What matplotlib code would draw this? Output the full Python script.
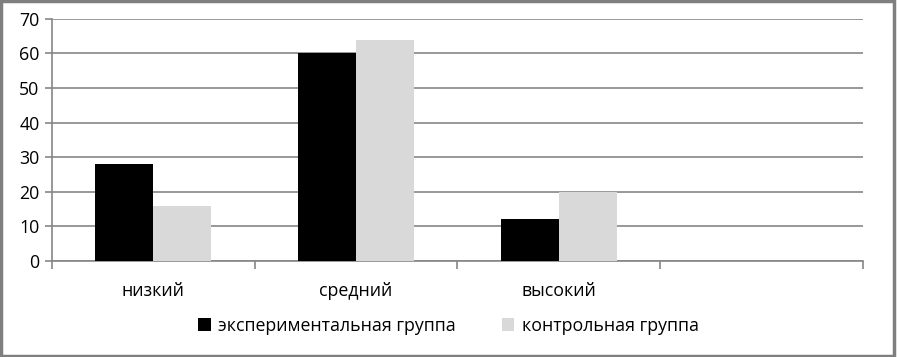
import matplotlib.pyplot as plt
from matplotlib.patches import Rectangle
import numpy as np

plt.rcParams['font.family'] = ['Open Sans', 'DejaVu Sans']

categories = ["низкий", "средний", "высокий", ""]
experimental = [28, 60, 12, 0]
control = [16, 64, 20, 0]
series_names = ["экспериментальная группа", "контрольная группа"]
yticks = [0, 10, 20, 30, 40, 50, 60, 70]

GRID = "#868686"

fig = plt.figure(figsize=(8.97, 3.57), dpi=100)
ax = fig.add_axes([0.058, 0.269, 0.904, 0.678])

x = np.arange(len(categories))
w = 0.286
b1 = ax.bar(x - w / 2, experimental, w, color="black", label=series_names[0], zorder=3)
b2 = ax.bar(x + w / 2, control, w, color="#d9d9d9", label=series_names[1], zorder=3)

ax.set_xlim(-0.5, len(categories) - 0.5)
ax.set_ylim(0, 70)
ax.set_yticks(yticks)
ax.yaxis.grid(True, color=GRID, linewidth=1.2, zorder=0)

# category boundary ticks below the axis
ax.set_xticks(np.arange(len(categories) + 1) - 0.5)
ax.set_xticklabels([])
ax.tick_params(axis="x", length=6, width=1.2, color=GRID, direction="out")
for xi, name in zip(x, categories):
    ax.text(xi, -0.085, name, transform=ax.get_xaxis_transform(), ha="center",
            va="top", fontsize=12.8)

ax.tick_params(axis="y", length=5, width=1.2, color=GRID, labelsize=12.8, pad=4)
for side in ["top", "right"]:
    ax.spines[side].set_visible(False)
ax.spines["left"].set_color(GRID)
ax.spines["bottom"].set_color(GRID)
ax.spines["left"].set_linewidth(1.2)
ax.spines["bottom"].set_linewidth(1.2)

fig.legend(handles=[b1, b2], loc="center", bbox_to_anchor=(0.5, 0.088), ncol=2,
           frameon=False, fontsize=12.8, handlelength=0.7, handleheight=0.7,
           handletextpad=0.4, columnspacing=2.6)

fig.patches.append(Rectangle((0.001, 0.003), 0.996, 0.994, transform=fig.transFigure,
                             fill=False, edgecolor="#7f7f7f", linewidth=2.5))

fig.savefig("out.png", dpi=100)
